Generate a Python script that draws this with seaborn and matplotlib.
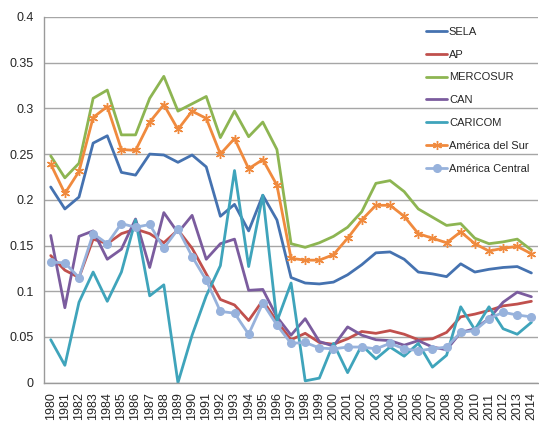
import numpy as np
import pandas as pd
import matplotlib
matplotlib.use('Agg')
import matplotlib.pyplot as plt
import seaborn as sns

years = [str(y) for y in range(1980, 2015)]

sela = [0.214, 0.190, 0.203, 0.262, 0.270, 0.230, 0.227, 0.250, 0.249, 0.241,
        0.249, 0.236, 0.182, 0.195, 0.166, 0.205, 0.178, 0.115, 0.109, 0.108,
        0.110, 0.118, 0.129, 0.142, 0.143, 0.135, 0.121, 0.119, 0.116, 0.130,
        0.121, 0.124, 0.126, 0.127, 0.120]
ap = [0.139, 0.123, 0.115, 0.157, 0.152, 0.163, 0.168, 0.163, 0.153, 0.167,
      0.147, 0.119, 0.091, 0.085, 0.068, 0.090, 0.067, 0.047, 0.054, 0.044,
      0.042, 0.048, 0.056, 0.054, 0.057, 0.053, 0.047, 0.048, 0.055, 0.072,
      0.075, 0.079, 0.084, 0.086, 0.089]
mercosur = [0.248, 0.224, 0.240, 0.311, 0.320, 0.271, 0.271, 0.311, 0.335, 0.297,
            0.305, 0.313, 0.268, 0.297, 0.269, 0.285, 0.255, 0.152, 0.148, 0.153,
            0.160, 0.170, 0.187, 0.218, 0.221, 0.209, 0.190, 0.181, 0.172, 0.174,
            0.158, 0.152, 0.154, 0.157, 0.145]
can = [0.161, 0.082, 0.160, 0.166, 0.135, 0.146, 0.179, 0.126, 0.186, 0.164,
       0.183, 0.135, 0.152, 0.157, 0.101, 0.102, 0.072, 0.052, 0.070, 0.045,
       0.040, 0.061, 0.052, 0.047, 0.046, 0.041, 0.046, 0.039, 0.036, 0.055,
       0.059, 0.070, 0.088, 0.099, 0.094]
caricom = [0.047, 0.019, 0.088, 0.121, 0.089, 0.121, 0.178, 0.095, 0.107, 0.000,
           0.052, 0.095, 0.128, 0.232, 0.127, 0.205, 0.067, 0.109, 0.002, 0.005,
           0.043, 0.011, 0.041, 0.026, 0.039, 0.029, 0.043, 0.017, 0.030, 0.083,
           0.058, 0.083, 0.059, 0.053, 0.066]
am_sur = [0.239, 0.207, 0.231, 0.290, 0.302, 0.255, 0.254, 0.285, 0.304, 0.277,
          0.297, 0.289, 0.250, 0.267, 0.234, 0.244, 0.216, 0.136, 0.134, 0.134,
          0.140, 0.158, 0.178, 0.194, 0.194, 0.182, 0.163, 0.158, 0.153, 0.165,
          0.152, 0.144, 0.147, 0.149, 0.141]
am_central = [0.132, 0.131, 0.115, 0.163, 0.152, 0.174, 0.170, 0.173, 0.147, 0.168,
              0.138, 0.112, 0.078, 0.076, 0.053, 0.087, 0.063, 0.043, 0.044, 0.038,
              0.037, 0.039, 0.039, 0.037, 0.043, 0.037, 0.035, 0.037, 0.039, 0.055,
              0.057, 0.070, 0.077, 0.074, 0.072]

names = ['SELA', 'AP', 'MERCOSUR', 'CAN', 'CARICOM', 'América del Sur', 'América Central']
series = [sela, ap, mercosur, can, caricom, am_sur, am_central]
colors = ['#4572B0', '#C0504D', '#8DB552', '#7B5C9E', '#3FA4BB', '#F08A3E', '#97B2DC']
markers = [None, None, None, None, None, (6, 2, 0), 'o']

sns.set_style('white')
plt.rcParams['font.family'] = ['Liberation Sans', 'DejaVu Sans']

fig = plt.figure(figsize=(5.39, 4.45), dpi=100)
ax = fig.add_axes([0.081, 0.140, 0.918, 0.822])

x = np.arange(len(years))
for name, vals, c, m in zip(names, series, colors, markers):
    df = pd.DataFrame({'x': x, 'v': vals})
    if m is None:
        sns.lineplot(data=df, x='x', y='v', color=c, lw=2.0, ax=ax, label=name)
    else:
        ms = 5.5 if m == 'o' else 6.5
        sns.lineplot(data=df, x='x', y='v', color=c, lw=2.0, ax=ax, label=name,
                     marker=m, markersize=ms, markeredgecolor=c, markeredgewidth=1.0)

ax.set_xlim(-0.5, len(years) - 0.5)
ax.set_ylim(0, 0.4)
ax.set_yticks(np.arange(0, 0.401, 0.05))
ax.set_yticklabels(['0', '0.05', '0.1', '0.15', '0.2', '0.25', '0.3', '0.35', '0.4'])
ax.set_xticks(x)
ax.set_xticklabels(years, rotation=90)
ax.set_xticks(np.arange(-0.5, len(years), 1), minor=True)
ax.tick_params(axis='x', which='major', length=0, labelsize=9, pad=7)
ax.tick_params(axis='x', which='minor', length=5, color='#9a9a9a', width=1)
ax.tick_params(axis='y', length=4, color='#9a9a9a', labelsize=9, pad=3)
ax.set_xlabel('')
ax.set_ylabel('')

ax.grid(axis='y', color='#a6a6a6', lw=1.0)
ax.set_axisbelow(True)
for s in ['top', 'right']:
    ax.spines[s].set_visible(False)
for s in ['left', 'bottom']:
    ax.spines[s].set_color('#9a9a9a')
    ax.spines[s].set_linewidth(1.0)

ax.legend(loc='upper left', bbox_to_anchor=(0.772, 0.962), bbox_transform=fig.transFigure,
          frameon=False, fontsize=8, handlelength=1.9, handletextpad=0.15,
          labelspacing=1.15)

fig.savefig('out.png', dpi=100)
